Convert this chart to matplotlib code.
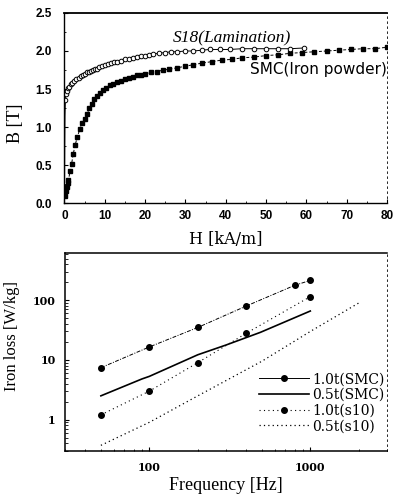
import matplotlib
matplotlib.use("Agg")
import matplotlib.pyplot as plt
from matplotlib.ticker import MultipleLocator, LogLocator, NullFormatter, FixedLocator, FixedFormatter

# ---------------- data: B-H curves ----------------
s18_H = [0.05, 0.1, 0.15, 0.25, 0.4, 0.6, 0.9, 1.2, 1.6, 2.0, 2.5, 3.0, 3.5, 4.0, 4.5,
         5.0, 5.5, 6.0, 6.5, 7.0, 7.5, 8.0, 8.7, 9.4, 10.1, 10.8, 11.5, 12.3, 13.1, 14.0,
         15.0, 16.0, 17.0, 18.0, 19.0, 20.0, 21.0, 22.0, 23.5, 25.0, 26.5, 28.0, 30.0,
         32.0, 34.0, 36.0, 38.5, 41.0, 44.0, 47.0, 50.0, 53.0, 56.0, 59.5]
s18_B = [0.30, 0.80, 1.15, 1.35, 1.44, 1.48, 1.51, 1.53, 1.56, 1.58, 1.61, 1.63, 1.65, 1.67, 1.69,
         1.70, 1.72, 1.73, 1.74, 1.75, 1.76, 1.77, 1.79, 1.80, 1.82, 1.83, 1.84, 1.85, 1.86, 1.87,
         1.89, 1.90, 1.91, 1.92, 1.93, 1.94, 1.95, 1.96, 1.97, 1.98, 1.99, 1.99, 2.00,
         2.00, 2.01, 2.02, 2.02, 2.02, 2.03, 2.03, 2.03, 2.03, 2.03, 2.04]

smc_H = [0.2, 0.4, 0.6, 0.8, 1.0, 1.4, 1.8, 2.2, 2.7, 3.2, 3.8, 4.4, 5.0, 5.6, 6.2, 6.8,
         7.4, 8.0, 8.8, 9.6, 10.4, 11.2, 12.0, 13.0, 14.0, 15.0, 16.0, 17.0, 18.0, 19.0,
         20.0, 21.5, 23.0, 24.5, 26.0, 28.0, 30.0, 32.0, 34.0, 36.5, 39.0, 41.5, 44.0,
         47.0, 50.0, 53.0, 56.0, 59.0, 62.0, 65.0, 68.0, 71.0, 74.0, 77.0, 80.0]
smc_B = [0.10, 0.16, 0.22, 0.27, 0.30, 0.42, 0.52, 0.65, 0.77, 0.87, 0.97, 1.05, 1.11, 1.17, 1.25, 1.31,
         1.37, 1.41, 1.45, 1.49, 1.52, 1.55, 1.57, 1.59, 1.61, 1.63, 1.65, 1.66, 1.68, 1.69,
         1.70, 1.72, 1.73, 1.75, 1.76, 1.78, 1.80, 1.82, 1.84, 1.86, 1.88, 1.89, 1.91,
         1.92, 1.94, 1.95, 1.97, 1.98, 1.99, 2.00, 2.01, 2.02, 2.03, 2.03, 2.05]

# ---------------- data: iron loss ----------------
f_smc10 = [50, 100, 200, 400, 800, 1000]
loss_smc10 = [7.4, 16.5, 35, 80, 178, 215]

f_smc05 = [50, 90, 100, 200, 300, 490, 1000]
loss_smc05 = [2.5, 4.8, 5.3, 12.2, 17.8, 29, 66]

f_s1010 = [50, 100, 200, 400, 1000]
loss_s1010 = [1.2, 3.0, 9.0, 28, 115]

f_s1005 = [50, 100, 200, 500, 1000, 2000]
loss_s1005 = [0.37, 0.9, 2.5, 9.5, 30, 90]

legend_labels = ["1.0t(SMC)", "0.5t(SMC)", "1.0t(s10)", "0.5t(s10)"]

fig = plt.figure(figsize=(3.95, 4.97), dpi=100)

serif = "Liberation Serif"
sans = "Liberation Sans"

# ---------------- top axes ----------------
ax1 = fig.add_axes([0.163, 0.591, 0.817, 0.383])
ax1.plot(smc_H, smc_B, ls=(0, (3, 2)), lw=0.7, color="black",
         marker="s", ms=3.0, mfc="black", mec="black")
ax1.plot(s18_H, s18_B, ls="-", lw=0.7, color="black",
         marker="o", ms=3.3, mfc="white", mec="black", mew=0.7,
         markevery=slice(3, None))
ax1.set_xlim(0, 80)
ax1.set_ylim(0, 2.5)
ax1.xaxis.set_major_locator(MultipleLocator(10))
ax1.xaxis.set_minor_locator(MultipleLocator(5))
ax1.yaxis.set_major_locator(MultipleLocator(0.5))
ax1.yaxis.set_minor_locator(MultipleLocator(0.25))
ax1.yaxis.set_major_formatter(plt.FormatStrFormatter("%.1f"))
ax1.tick_params(which="both", direction="in", top=False, right=False)
ax1.tick_params(which="major", length=3, width=0.8, labelsize=8.5)
ax1.tick_params(axis="x", which="major", pad=5)
ax1.tick_params(axis="y", which="major", pad=9)
ax1.tick_params(which="minor", length=1.5, width=0.6)
for lab in ax1.get_xticklabels() + ax1.get_yticklabels():
    lab.set_fontfamily(sans)
    lab.set_fontweight("bold")
ax1.spines["right"].set_linestyle((0, (2, 4)))
ax1.spines["right"].set_linewidth(0.6)
ax1.spines["top"].set_linewidth(1.3)
ax1.spines["left"].set_linewidth(1.0)
ax1.spines["bottom"].set_linewidth(1.0)
ax1.set_xlabel("H [kA/m]", fontfamily="DejaVu Serif", fontsize=11.5, labelpad=6)
ax1.set_ylabel("B [T]", fontfamily=serif, fontsize=13)
ax1.yaxis.set_label_coords(-0.125, 0.42)
ax1.text(41.5, 2.115, "S18(Lamination)", fontfamily=serif, fontstyle="italic",
         fontsize=12.5, ha="center", va="baseline")
ax1.text(80, 1.86, "SMC(Iron powder)", fontfamily="DejaVu Sans", fontsize=11,
         ha="right", va="top")

# ---------------- bottom axes ----------------
ax2 = fig.add_axes([0.165, 0.093, 0.815, 0.398])
ax2.set_xscale("log")
ax2.set_yscale("log")
ax2.plot(f_smc10, loss_smc10, ls=(0, (4, 1.5, 1, 1.5)), lw=0.7, color="black",
         marker="o", ms=4, label=legend_labels[0])
ax2.plot(f_smc05, loss_smc05, ls="-", lw=1.2, color="black", label=legend_labels[1])
ax2.plot(f_s1010, loss_s1010, ls=(0, (1, 3)), lw=0.8, color="black",
         marker="o", ms=4, label=legend_labels[2])
ax2.plot(f_s1005, loss_s1005, ls=(0, (1, 2.5)), lw=0.9, color="black", label=legend_labels[3])
ax2.set_xlim(30, 3000)
ax2.set_ylim(0.3, 620)
ax2.xaxis.set_major_locator(FixedLocator([100, 1000]))
ax2.xaxis.set_major_formatter(FixedFormatter(["100", "1000"]))
ax2.xaxis.set_minor_locator(LogLocator(base=10, subs=range(2, 10)))
ax2.xaxis.set_minor_formatter(NullFormatter())
ax2.yaxis.set_major_locator(FixedLocator([1, 10, 100]))
ax2.yaxis.set_major_formatter(FixedFormatter(["1", "10", "100"]))
ax2.yaxis.set_minor_locator(LogLocator(base=10, subs=range(2, 10)))
ax2.yaxis.set_minor_formatter(NullFormatter())
ax2.tick_params(which="both", direction="in", top=False, right=False)
ax2.tick_params(which="major", length=3, width=0.8, labelsize=8)
ax2.tick_params(axis="x", which="major", pad=8)
ax2.tick_params(axis="y", which="major", pad=7)
ax2.tick_params(which="minor", length=1.8, width=0.6)
for lab in ax2.get_xticklabels() + ax2.get_yticklabels():
    lab.set_fontfamily("DejaVu Serif")
    lab.set_fontweight("bold")
ax2.spines["right"].set_linestyle((0, (2, 4)))
ax2.spines["right"].set_linewidth(0.6)
for s in ["top", "left", "bottom"]:
    ax2.spines[s].set_linewidth(1.1)
ax2.set_xlabel("Frequency [Hz]", fontfamily=serif, fontsize=13, labelpad=3)
ax2.set_ylabel("Iron loss [W/kg]", fontfamily=serif, fontsize=12)
ax2.yaxis.set_label_coords(-0.14, 0.58)
leg = ax2.legend(loc="lower right", bbox_to_anchor=(1.01, 0.06), frameon=False,
                 prop={"family": "DejaVu Serif", "size": 10}, handlelength=3.6,
                 labelspacing=0.12, handletextpad=0.25, borderaxespad=0.0)
leg.get_lines()[0].set_linestyle("-")

fig.savefig("out.png", dpi=100)
